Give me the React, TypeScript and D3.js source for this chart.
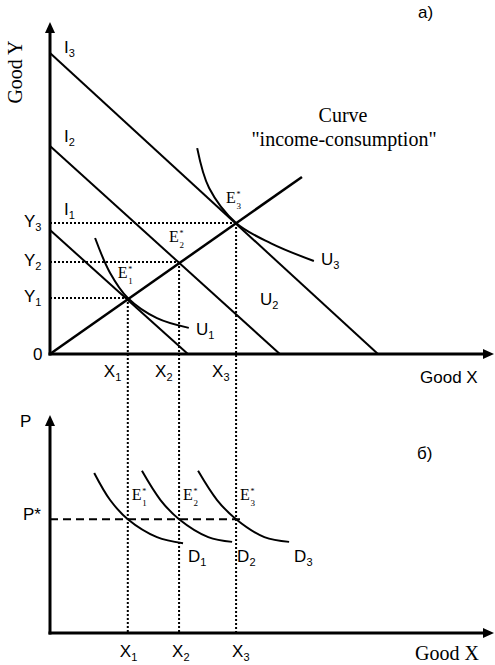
import React from "react";
import * as d3 from "d3";

// ---- data (abstract units) ----
const budgetNames = ["1", "2", "3"];
const budgetYIntercepts = [2.8, 4.7, 6.8];
const budgetXIntercepts = [3.12, 5.2, 7.42];
const equilibriumX = [1.76, 2.92, 4.21];
const equilibriumY = [1.265, 2.08, 2.96];
const iccEnd: [number, number] = [5.7, 4.0];
const u1Curve: [number, number][] = [[1.02, 2.62], [1.36, 1.83], [1.76, 1.265], [2.42, 0.81], [3.14, 0.59]];
const u3Curve: [number, number][] = [[3.33, 4.65], [3.6, 3.75], [4.21, 2.96], [5.0, 2.5], [5.97, 2.1]];
const d1Curve: [number, number][] = [[1.0, 3.67], [1.36, 3.05], [1.76, 2.61], [2.42, 2.2], [3.01, 2.06]];
const d2Curve: [number, number][] = [[2.08, 3.72], [2.5, 3.05], [2.92, 2.61], [3.58, 2.2], [4.12, 2.09]];
const d3Curve: [number, number][] = [[3.35, 3.72], [3.78, 3.05], [4.21, 2.61], [4.85, 2.2], [5.41, 2.09]];
const demandCurves = [d1Curve, d2Curve, d3Curve];
const priceLevel = 2.61;
const priceLineEnd = 4.35;

const SANS = "'Liberation Sans', Arial, sans-serif";
const SERIF = "'Liberation Serif', 'Times New Roman', serif";

const x = d3.scaleLinear().domain([0, 10]).range([50, 492]);
const yTop = d3.scaleLinear().domain([0, 7.5]).range([354, 22]);
const yBot = d3.scaleLinear().domain([0, 5]).range([633, 415]);

const Sub = ({ x, y, main, sub, size = 17 }: any) => (
  <text x={x} y={y} fontFamily={SANS} fontSize={size} fill="#000">
    {main}
    <tspan fontSize={11} dy={4}>{sub}</tspan>
  </text>
);

const ELabel = ({ x, y, n }: any) => (
  <g fontFamily={SERIF} fill="#000">
    <text x={x} y={y} fontSize={16}>E</text>
    <text x={x + 10.5} y={y - 6} fontSize={8}>*</text>
    <text x={x + 10.5} y={y + 6} fontSize={9}>{n}</text>
  </g>
);

export default function App() {
  const topLine = d3.line<[number, number]>().x((d) => x(d[0])).y((d) => yTop(d[1])).curve(d3.curveCatmullRom.alpha(0.5));
  const botLine = d3.line<[number, number]>().x((d) => x(d[0])).y((d) => yBot(d[1])).curve(d3.curveCatmullRom.alpha(0.5));
  const x0 = x(0);
  const topY0 = yTop(0);
  const botY0 = yBot(0);
  return (
    <svg width={495} height={665} style={{ position: "absolute", left: 0, top: 0, background: "#fff" }}>
      {/* ---------- top chart ---------- */}
      {equilibriumX.map((ex, i) => (
        <g key={"g" + i} stroke="#000" strokeWidth={2} strokeDasharray="2,2">
          <line x1={x0} x2={x(ex)} y1={yTop(equilibriumY[i])} y2={yTop(equilibriumY[i])} />
          <line x1={x(ex)} x2={x(ex)} y1={yTop(equilibriumY[i])} y2={botY0} />
        </g>
      ))}
      {budgetYIntercepts.map((yi, i) => (
        <line key={"b" + i} x1={x(0)} y1={yTop(yi)} x2={x(budgetXIntercepts[i])} y2={yTop(0)} stroke="#000" strokeWidth={2} />
      ))}
      <line x1={x(0)} y1={yTop(0)} x2={x(iccEnd[0])} y2={yTop(iccEnd[1])} stroke="#000" strokeWidth={2.5} />
      <path d={topLine(u1Curve) || ""} fill="none" stroke="#000" strokeWidth={2} />
      <path d={topLine(u3Curve) || ""} fill="none" stroke="#000" strokeWidth={2} />
      <line x1={x0} y1={topY0 + 1.5} x2={x0} y2={31} stroke="#000" strokeWidth={3} />
      <polygon points={`${x0},22 ${x0 - 5},33 ${x0 + 5},33`} fill="#000" />
      <line x1={x0 - 1.5} y1={topY0} x2={484} y2={topY0} stroke="#000" strokeWidth={3} />
      <polygon points={`494,${topY0} 483,${topY0 - 5} 483,${topY0 + 5}`} fill="#000" />

      {budgetNames.map((n, i) => (
        <Sub key={"il" + i} x={64} y={[215, 142, 53][i]} main="I" sub={n} />
      ))}
      {equilibriumY.map((ey, i) => (
        <Sub key={"yl" + i} x={24} y={yTop(ey) + 4} main="Y" sub={String(i + 1)} />
      ))}
      {equilibriumX.map((ex, i) => (
        <Sub key={"xl" + i} x={x(ex) - 24} y={377} main="X" sub={String(i + 1)} />
      ))}
      {equilibriumX.map((ex, i) => (
        <ELabel key={"el" + i} x={x(ex) - 10} y={yTop(equilibriumY[i]) - 20} n={String(i + 1)} />
      ))}
      <text x={33} y={360} fontFamily={SANS} fontSize={17}>0</text>
      <Sub x={196} y={335} main="U" sub="1" />
      <Sub x={260} y={305} main="U" sub="2" />
      <Sub x={321} y={265} main="U" sub="3" />
      <text x={420} y={383} fontFamily={SANS} fontSize={17}>Good X</text>
      <text x={418} y={18} fontFamily={SANS} fontSize={17}>а)</text>
      <text x={343} y={122} fontFamily={SERIF} fontSize={20} textAnchor="middle">Curve</text>
      <text x={344} y={146} fontFamily={SERIF} fontSize={20} textAnchor="middle">"income-consumption"</text>
      <text transform="translate(22,72) rotate(-90)" fontFamily={SERIF} fontSize={20} textAnchor="middle">Good Y</text>

      {/* ---------- bottom chart ---------- */}
      <line x1={x0} x2={x(priceLineEnd)} y1={yBot(priceLevel)} y2={yBot(priceLevel)} stroke="#000" strokeWidth={2} strokeDasharray="8,5" />
      {demandCurves.map((c, i) => (
        <path key={"d" + i} d={botLine(c) || ""} fill="none" stroke="#000" strokeWidth={2} />
      ))}
      <line x1={x0} y1={botY0 + 1.5} x2={x0} y2={424} stroke="#000" strokeWidth={3} />
      <polygon points={`${x0},415 ${x0 - 5},426 ${x0 + 5},426`} fill="#000" />
      <line x1={x0 - 1.5} y1={botY0} x2={484} y2={botY0} stroke="#000" strokeWidth={3} />
      <polygon points={`494,${botY0} 483,${botY0 - 5} 483,${botY0 + 5}`} fill="#000" />

      {equilibriumX.map((ex, i) => (
        <ELabel key={"eb" + i} x={x(ex) + 4} y={yBot(priceLevel) - 19} n={String(i + 1)} />
      ))}
      {demandCurves.map((c, i) => (
        <Sub key={"dl" + i} x={x(c[c.length - 1][0]) + 5} y={562} main="D" sub={String(i + 1)} />
      ))}
      {equilibriumX.map((ex, i) => (
        <Sub key={"xb" + i} x={x(ex) - [8, 7, 4][i]} y={657} main="X" sub={String(i + 1)} />
      ))}
      <text x={20} y={427} fontFamily={SANS} fontSize={17}>P</text>
      <text x={23} y={520} fontFamily={SANS} fontSize={17}>P*</text>
      <text x={417} y={459} fontFamily={SANS} fontSize={17}>б)</text>
      <text x={415} y={660} fontFamily={SERIF} fontSize={20}>Good X</text>
    </svg>
  );
}
